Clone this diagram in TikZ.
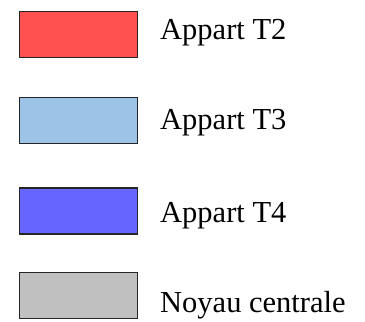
\documentclass[tikz,border=0pt]{standalone}
\usepackage{fontspec}
\setmainfont{Liberation Serif}
\definecolor{cT2}{HTML}{FF5050}
\definecolor{cT3}{HTML}{9DC3E6}
\definecolor{cT4}{HTML}{6666FF}
\definecolor{cNoy}{HTML}{C0C0C0}
\begin{document}
\begin{tikzpicture}[x=1pt,y=-1pt,
  swatch/.style={draw=black!85,line width=1.6pt,minimum width=118pt,minimum height=46pt,inner sep=0pt,anchor=north west},
  lbl/.style={anchor=base west,inner sep=0pt,font=\fontsize{30.5}{36}\selectfont}]
\useasboundingbox (0,0) rectangle (365,322);
\node[swatch,fill=cT2] (s2) at (18.5,10.5) {};
\node[swatch,fill=cT3] (s3) at (18.5,96.5) {};
\node[swatch,fill=cT4] (s4) at (18.5,187) {};
\node[swatch,fill=cNoy] (sn) at (18.5,271.5) {};
\node[lbl] (l2) at (160,39) {Appart T2};
\node[lbl] (l3) at (160,129) {Appart T3};
\node[lbl] (l4) at (160,222) {Appart T4};
\node[lbl] (ln) at (160,312) {Noyau centrale};
\end{tikzpicture}
\end{document}
